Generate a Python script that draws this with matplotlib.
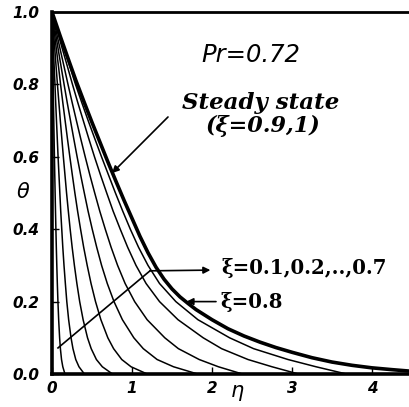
import matplotlib
matplotlib.use("Agg")
import matplotlib.pyplot as plt

THETA_LEVELS = [1.0, .95, .9, .85, .8, .75, .7, .65, .6, .55, .5, .45, .4, .35, .3,
                .25, .2, .15, .1, .07, .04, .02, 0.0]

# eta read at each theta level, one list per xi
ETA_XI = {
    0.1: [0, .0036, .0073, .011, .0146, .0184, .0223, .0263, .0304, .0346, .039, .0437,
          .0487, .054, .06, .0666, .0742, .0833, .0952, .105, .119, .135, .162],
    0.2: [0, .009, .018, .027, .037, .046, .056, .066, .076, .087, .098, .109, .122,
          .135, .15, .167, .185, .208, .238, .262, .297, .337, .405],
    0.3: [0, .017, .034, .051, .068, .086, .104, .123, .142, .162, .182, .204, .227,
          .252, .28, .311, .346, .389, .444, .49, .555, .629, .756],
    0.4: [0, .026, .053, .081, .107, .135, .164, .193, .223, .254, .286, .32, .357,
          .396, .44, .488, .544, .611, .698, .77, .872, .988, 1.19],
    0.5: [0, .037, .075, .113, .151, .19, .231, .272, .314, .358, .404, .451, .503,
          .559, .62, .691, .775, .88, 1.023, 1.141, 1.314, 1.519, 1.82],
    0.6: [0, .049, .099, .15, .2, .252, .305, .359, .415, .473, .534, .597, .666,
          .739, .82, .914, 1.033, 1.189, 1.41, 1.58, 1.84, 2.08, 2.38],
    0.7: [0, .063, .127, .192, .256, .322, .391, .46, .531, .606, .684, .764, .853,
          .946, 1.05, 1.176, 1.344, 1.575, 1.89, 2.12, 2.45, 2.75, 3.08],
    0.8: [0, .072, .148, .222, .294, .372, .452, .535, .619, .706, .793, .884, .979,
          1.082, 1.2, 1.344, 1.548, 1.824, 2.22, 2.52, 2.95, 3.3, 3.68],
}

# steady state (xi = 0.9, 1)
ETA_SS = [0, .1, .2, .3, .4, .5, .6, .7, .8, .9, 1.0, 1.1, 1.2, 1.3, 1.4, 1.5, 1.6,
          1.7, 1.8, 2.0, 2.2, 2.4, 2.6, 2.8, 3.0, 3.25, 3.5, 3.75, 4.0, 4.25, 4.47]
THETA_SS = [1.0, .935, .872, .81, .752, .695, .64, .585, .532, .48, .43, .38, .335,
            .295, .262, .235, .213, .195, .178, .15, .125, .105, .088, .073, .06,
            .045, .033, .024, .017, .012, .008]

XTICKS = [0, 1, 2, 3, 4]
YTICKS = [0.0, 0.2, 0.4, 0.6, 0.8, 1.0]

fig = plt.figure(figsize=(4.10, 4.07), dpi=100)
ax = fig.add_axes([52/410, 1-374/407, 358/410, 362/407])

for xi, eta in ETA_XI.items():
    ax.plot(eta, THETA_LEVELS, color="black", lw=1.1, solid_capstyle="round",
            solid_joinstyle="round")
ax.plot(ETA_SS, THETA_SS, color="black", lw=2.6, solid_capstyle="round",
        solid_joinstyle="round")

ax.set_xlim(0, 4.475)
ax.set_ylim(0, 1.0)

for s, w in [("left", 2.6), ("bottom", 2.6), ("top", 2.0), ("right", 1.2)]:
    ax.spines[s].set_linewidth(w)

ax.set_xticks(XTICKS)
ax.set_yticks(YTICKS)
ax.set_xticklabels([f"{t:d}" for t in XTICKS])
ax.set_yticklabels([f"{t:.1f}" for t in YTICKS])
ax.tick_params(direction="in", length=5, width=1.0)
ax.tick_params(axis="y", pad=9)
ax.tick_params(axis="x", pad=5)
for lab in ax.get_xticklabels() + ax.get_yticklabels():
    lab.set_fontweight("bold")
    lab.set_fontstyle("italic")
    lab.set_fontsize(11)
    lab.set_family("DejaVu Sans")

fig.text(23/410, 1-192/407, r"$\theta$", fontsize=15, ha="center", va="center")
fig.text(237/410, 1-393/407, r"$\eta$", fontsize=15, ha="center", va="center")

ax.text(2.49, 0.88, "Pr=0.72", fontsize=17.5, ha="center", va="center",
        family="DejaVu Sans", style="italic")
ax.text(2.61, 0.748, "Steady state", fontsize=16.5, ha="center", va="center",
        family="DejaVu Serif", style="italic", fontweight="bold")
ax.text(2.64, 0.685, "(ξ=0.9,1)", fontsize=16, ha="center", va="center",
        family="DejaVu Serif", style="italic", fontweight="bold")

ax.annotate("", xy=(0.75, 0.555), xytext=(1.45, 0.71),
            arrowprops=dict(arrowstyle="-|>", color="black", lw=1.2,
                            mutation_scale=10, shrinkA=0, shrinkB=0))

# diagonal through the curves xi=0.1..0.7
ax.plot([0.075, 1.225], [0.072, 0.285], color="black", lw=1.2)
ax.annotate("", xy=(1.98, 0.287), xytext=(1.225, 0.285),
            arrowprops=dict(arrowstyle="-|>", color="black", lw=1.2,
                            mutation_scale=10, shrinkA=0, shrinkB=0))
ax.text(2.12, 0.293, "ξ=0.1,0.2,..,0.7", fontsize=14.2, ha="left", va="center",
        family="DejaVu Serif", fontweight="bold")

ax.annotate("", xy=(1.68, 0.2), xytext=(2.05, 0.2),
            arrowprops=dict(arrowstyle="-|>", color="black", lw=1.2,
                            mutation_scale=10, shrinkA=0, shrinkB=0))
ax.text(2.1, 0.199, "ξ=0.8", fontsize=14.2, ha="left", va="center",
        family="DejaVu Serif", fontweight="bold")

fig.savefig("out.png", dpi=100)
